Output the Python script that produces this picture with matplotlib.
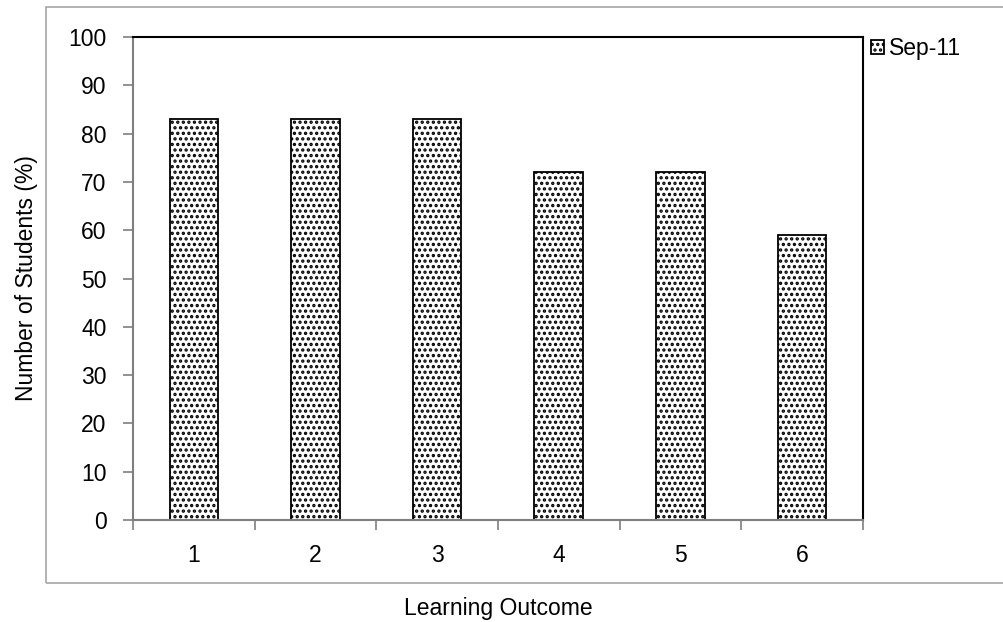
import numpy as np
import matplotlib.pyplot as plt
from matplotlib.patches import Rectangle

plt.rcParams['font.family'] = ['Liberation Sans', 'DejaVu Sans']
plt.rcParams['hatch.linewidth'] = 1.6

# Share of students meeting each learning outcome
outcomes = ['1', '2', '3', '4', '5', '6']
sep11 = [83, 83, 83, 72, 72, 59]

fig = plt.figure(figsize=(10.04, 6.22), dpi=100)
ax = fig.add_axes([0.1325, 0.164, 0.727, 0.7765])

# gray frame around the whole chart area
fig.patches.append(Rectangle((0.0458, 0.0627), 1.0, 0.926, transform=fig.transFigure,
                             fill=False, edgecolor='#a6a6a6', linewidth=1.2))

x = np.arange(len(outcomes))
ax.bar(x, sep11, width=0.4, color='white', edgecolor='black', linewidth=1.3,
       hatch='...', label='Sep-11')

ax.set_xlim(-0.5, len(outcomes) - 0.5)
ax.set_ylim(0, 100)
ax.set_yticks(range(0, 101, 10))
ax.set_xticks(x)
ax.set_xticklabels(outcomes)
ax.set_xticks(np.arange(-0.5, len(outcomes)), minor=True)

for side in ['top', 'right']:
    ax.spines[side].set_color('black')
    ax.spines[side].set_linewidth(1.5)
for side in ['left', 'bottom']:
    ax.spines[side].set_color('#7f7f7f')
    ax.spines[side].set_linewidth(1.5)

fs = 16.5
ax.tick_params(axis='y', direction='out', length=7, color='#7f7f7f', width=1.2,
               labelsize=fs, pad=12)
ax.tick_params(axis='x', which='major', length=0, labelsize=fs, pad=17)
ax.tick_params(axis='x', which='minor', direction='out', length=7, color='#7f7f7f', width=1.2)

ax.set_ylabel('Number of Students (%)', fontsize=fs, labelpad=22)
fig.text(0.496, 0.011, 'Learning Outcome', ha='center', fontsize=fs)

fig.legend(loc='upper left', bbox_to_anchor=(0.847, 0.973), frameon=False,
           fontsize=fs, handlelength=0.55, handleheight=0.55, handletextpad=0.25)

fig.savefig('out.png', dpi=100)
